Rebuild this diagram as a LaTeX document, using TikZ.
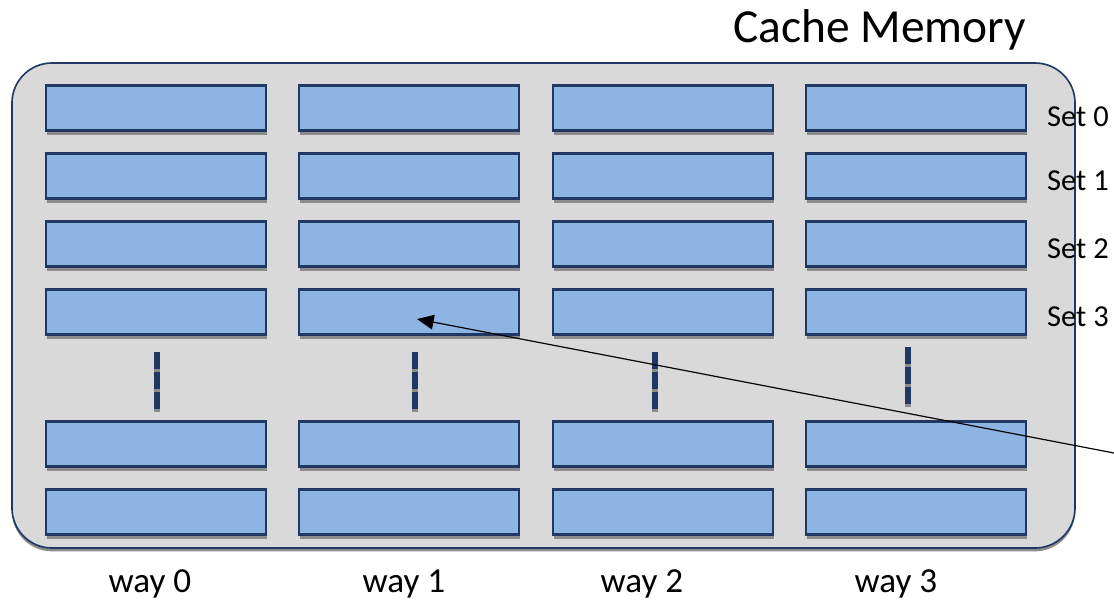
\documentclass[tikz,border=0pt]{standalone}
\usepackage{fontspec}
\setmainfont{Carlito}
\usetikzlibrary{arrows.meta, positioning, shadows}

\definecolor{lineblue}{HTML}{1F3864}
\definecolor{cellblue}{HTML}{8EB4E3}
\definecolor{cachegray}{HTML}{D9D9D9}
\definecolor{shadowgray}{HTML}{8C8C8C}

\begin{document}
\begin{tikzpicture}[
  x=0.03cm, y=-0.03cm,
  cache/.style={rectangle, rounded corners=1.2cm, draw=lineblue, line width=1.4pt, fill=cachegray,
    minimum width=31.89cm, minimum height=14.55cm,
    drop shadow={shadow xshift=0cm, shadow yshift=-0.1cm, fill=shadowgray, opacity=1}},
  cell/.style={rectangle, draw=lineblue, line width=2pt, fill=cellblue,
    minimum width=6.6cm, minimum height=1.35cm,
    drop shadow={shadow xshift=0.03cm, shadow yshift=-0.14cm, fill=shadowgray, opacity=1}},
  dotmark/.style={line width=0.16cm, draw=lineblue, dash pattern=on 0.51cm off 0.09cm},
  dotshade/.style={dotmark, draw=shadowgray},
  title/.style={font=\fontsize{40.5}{43}\selectfont},
  setlabel/.style={font=\fontsize{26}{28}\selectfont, inner sep=0pt},
  waylabel/.style={font=\fontsize{30}{32}\selectfont, inner sep=0pt},
  pointer/.style={-{Triangle[length=0.5cm, width=0.44cm]}, line width=1pt}
]
\useasboundingbox (0,0) rectangle (1114,603);

% cache block
\node[cache] (cache) at (543.5,305.5) {};
\node[title, anchor=base east] (title) at (1030,42) {Cache Memory};

% lines: ways x sets
\foreach \w/\cx in {0/156,1/409,2/663,3/916}
  \foreach \r/\cy in {0/108,1/176,2/244,3/312,4/444,5/512}
    \node[cell] (cell-\w-\r) at (\cx,\cy) {};

% gap marks between set 3 and the last sets
\foreach \dx/\top in {157/352,415/352,655/352,908/347}{
  \draw[dotshade] (\dx,\top+3) -- ++(0,60);
  \draw[dotmark] (\dx,\top) -- ++(0,60);
}

\foreach \r/\sy in {0/117,1/181,2/249,3/317}
  \node[setlabel, anchor=west] (set\r) at (1047,\sy) {Set \r};

\foreach \w/\wx in {0/150,1/404,2/642,3/896}
  \node[waylabel] (way\w) at (\wx,584) {way \w};

% pointer into set 3, way 1
\coordinate (pointer-tail) at (1114,453);
\draw[pointer] (pointer-tail) -- ([shift={(8,7)}]cell-1-3.center);
\end{tikzpicture}
\end{document}
